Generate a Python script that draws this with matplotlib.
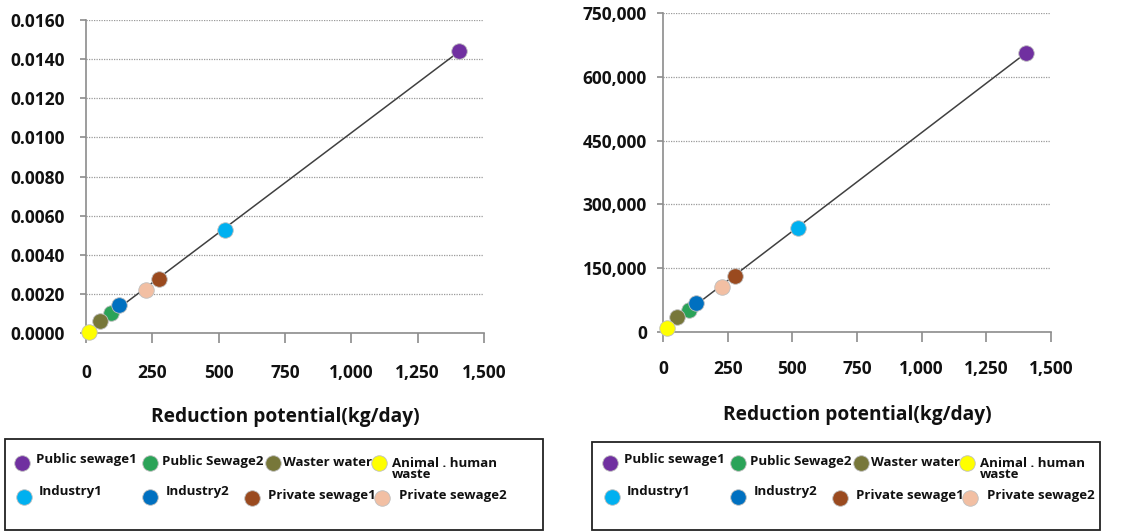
import numpy as np
import matplotlib
matplotlib.use("Agg")
import matplotlib.pyplot as plt
from matplotlib.ticker import FuncFormatter, FixedLocator
from matplotlib.patches import Rectangle

plt.rcParams['font.family'] = ['Open Sans', 'DejaVu Sans']
plt.rcParams['font.weight'] = 'bold'

categories = ["Public sewage1", "Public Sewage2", "Waster water", "Animal . human\nwaste",
              "Industry1", "Industry2", "Private sewage1", "Private sewage2"]
colors = ["#7030A0", "#2BA358", "#77773A", "#FFFF00", "#00B0F0", "#0070C0", "#9A4A1F", "#F2BFA3"]

# left chart: reduction potential (kg/day) vs value
left_x = [1404, 95, 53, 12, 523, 126, 274, 226]
left_y = [0.01441, 0.00104, 0.00063, 0.00007, 0.00526, 0.00143, 0.00278, 0.00220]
# right chart
right_x = [1402, 99, 54, 14, 520, 128, 277, 228]
right_y = [656700, 51700, 34500, 8700, 244500, 69000, 131000, 105000]

x_ticks = [0, 250, 500, 750, 1000, 1250, 1500]
left_yticks = [0, 0.002, 0.004, 0.006, 0.008, 0.010, 0.012, 0.014, 0.016]
right_yticks = [0, 150000, 300000, 450000, 600000, 750000]
xlabel = "Reduction potential(kg/day)"

W, H = 1126, 532
fig = plt.figure(figsize=(W / 100, H / 100), dpi=100)

def px_axes(x0, x1, ytop, ybot):
    return fig.add_axes([x0 / W, (H - ybot) / H, (x1 - x0) / W, (ybot - ytop) / H])

axL = px_axes(86, 484, 20, 333)
axR = px_axes(663, 1051, 13, 332)

def style(ax, xs, ys, yticks, yfmt, xpad, ypad):
    xs = np.array(xs, float)
    ys = np.array(ys, float)
    order = np.argsort(xs)
    k, b = np.polyfit(xs, ys, 1)
    xl = np.array([xs[order[0]], xs[order[-1]]])
    ax.plot(xl, k * xl + b, color="#404040", lw=1.1, zorder=2)
    for i in range(len(xs)):
        ax.scatter(xs[i], ys[i], s=125, color=colors[i], edgecolor="#BFBFBF", linewidths=0.6,
                   zorder=3, clip_on=False)
    ax.set_xlim(0, 1500)
    ax.set_ylim(yticks[0], yticks[-1])
    ax.xaxis.set_major_locator(FixedLocator(x_ticks))
    ax.yaxis.set_major_locator(FixedLocator(yticks))
    ax.xaxis.set_major_formatter(FuncFormatter(lambda v, p: f"{v:,.0f}"))
    ax.yaxis.set_major_formatter(FuncFormatter(yfmt))
    for s in ['top', 'right']:
        ax.spines[s].set_visible(False)
    for s in ['left', 'bottom']:
        ax.spines[s].set_color("#8C8C8C")
        ax.spines[s].set_linewidth(1.2)
    ax.tick_params(axis='x', length=7, width=1.2, color="#8C8C8C", pad=xpad, labelcolor="#111111",
                   labelsize=12.5)
    ax.tick_params(axis='y', length=4, width=1.2, color="#8C8C8C", pad=ypad, labelcolor="#111111",
                   labelsize=12.5)
    ax.grid(axis='y', linestyle=(0, (1, 1)), color="#9A9A9A", lw=0.9)
    ax.set_axisbelow(True)

style(axL, left_x, left_y, left_yticks, lambda v, p: f"{v:.4f}", 15, 11)
style(axR, right_x, right_y, right_yticks, lambda v, p: f"{v:,.0f}", 13, 7.5)

fig.text(285 / W, 1 - 417 / H, xlabel, ha='center', va='center', fontsize=13.8, fontweight='bold', color="#111111")
fig.text(857 / W, 1 - 415 / H, xlabel, ha='center', va='center', fontsize=13.8, fontweight='bold', color="#111111")

# legends drawn in a pixel-coordinate overlay
ov = fig.add_axes([0, 0, 1, 1])
ov.set_xlim(0, W)
ov.set_ylim(H, 0)
ov.axis('off')

ov.add_patch(Rectangle((5, 439), 538, 91, fill=False, edgecolor="#222222", lw=1.3))
ov.add_patch(Rectangle((592, 442), 508, 88, fill=False, edgecolor="#222222", lw=1.3))

marker_pos = [(22, 463), (150, 463), (273, 463), (379, 463),
              (24, 497), (150, 497), (252, 498), (382, 498)]
text_pos = [(36, 459), (162, 462), (283, 462), (392, 469),
            (39, 492), (166, 492), (268, 495), (399, 495)]
for off in (0, 588):
    for i, name in enumerate(categories):
        mx, my = marker_pos[i]
        tx, ty = text_pos[i]
        ov.scatter(mx + off, my, s=125, color=colors[i], edgecolor="#BFBFBF", linewidths=0.6)
        ov.text(tx + off, ty, name, ha='left', va='center', fontsize=9.5, fontweight='bold',
                color="#111111", linespacing=0.85)

fig.savefig("out.png", dpi=100)
